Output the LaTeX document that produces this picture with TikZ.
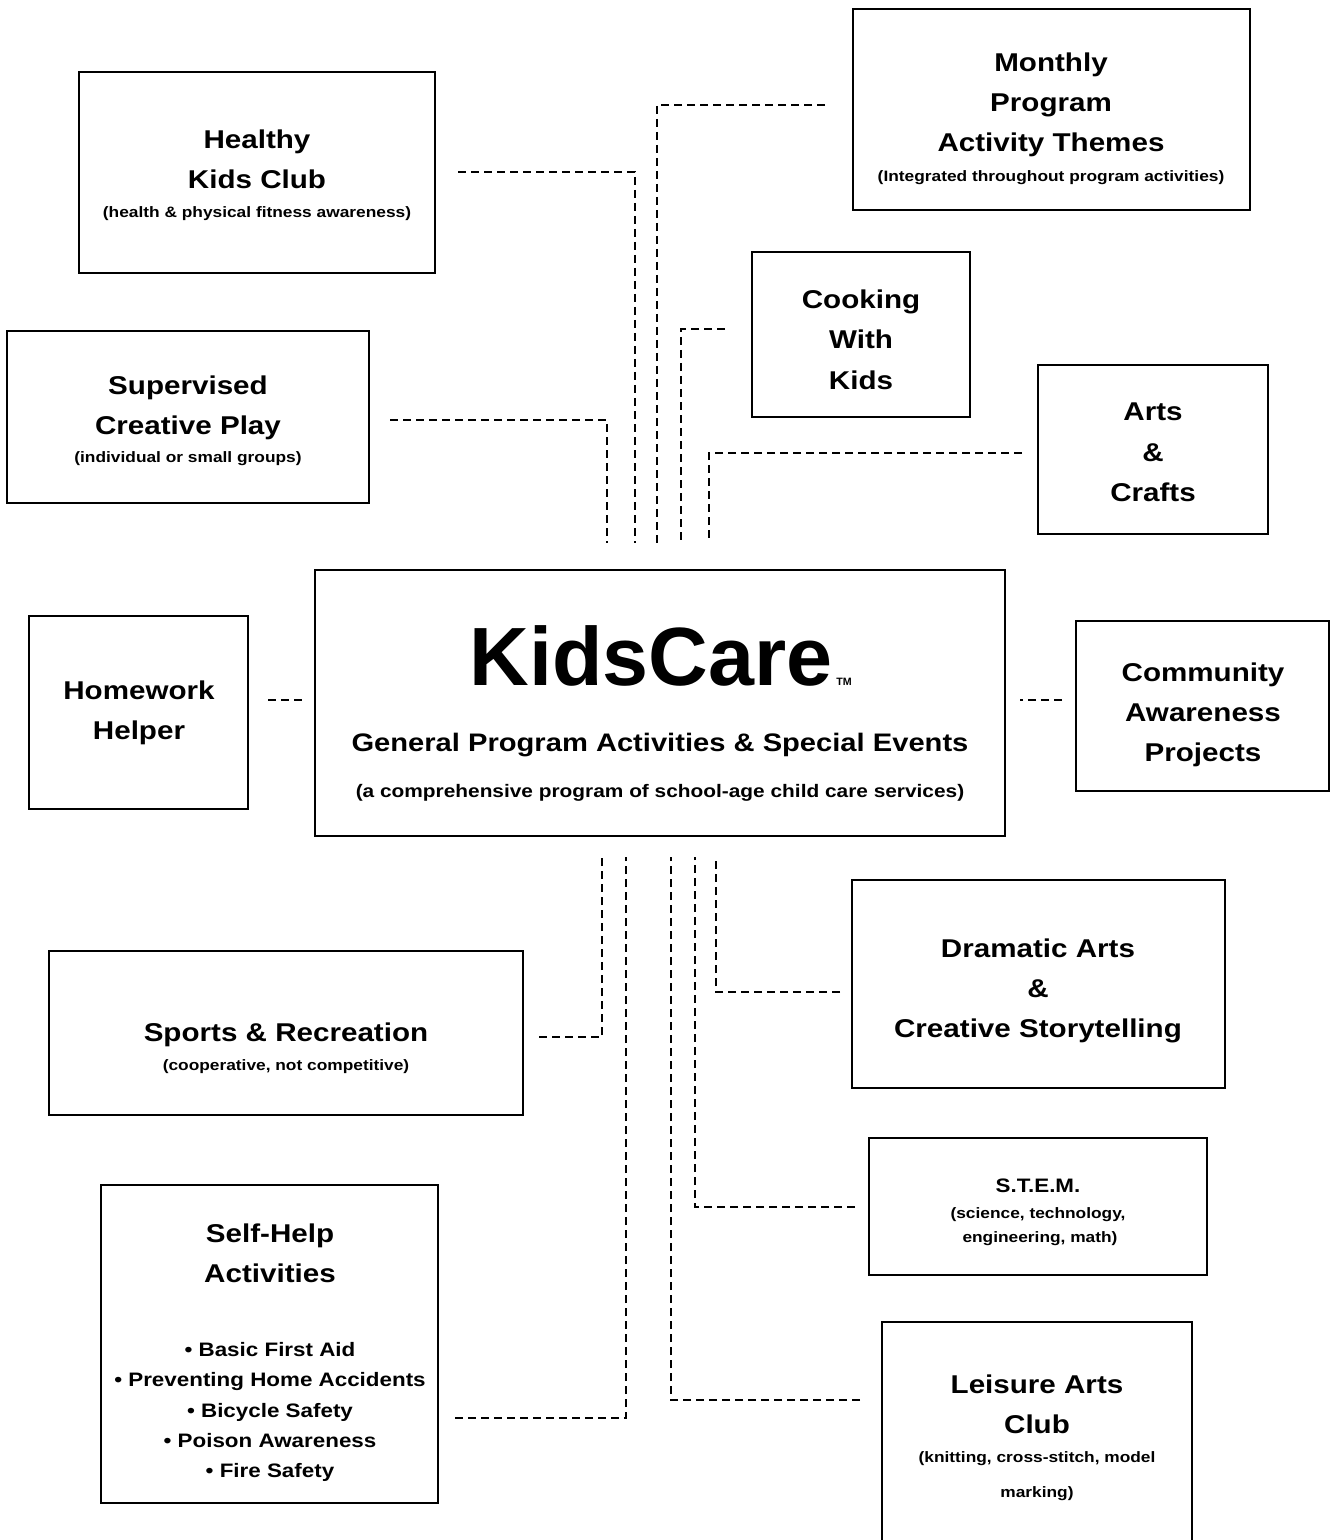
\documentclass[tikz,border=0pt]{standalone}
\usepackage{fontspec}
\setmainfont{Liberation Sans}[FakeStretch=1.15]
\newfontfamily\kcfont{Liberation Sans}
\usetikzlibrary{fit}
\tikzset{
  box/.style={draw, line width=1.4pt, inner sep=0pt, rectangle},
  tx/.style={anchor=base, inner sep=0pt},
  ttl/.style={tx, font=\bfseries\fontsize{19.3}{23}\selectfont},
  sub/.style={tx, font=\bfseries\fontsize{11.3}{13}\selectfont},
  bul/.style={tx, font=\bfseries\fontsize{14.6}{17}\selectfont},
  link/.style={line width=1.1pt, dash pattern=on 6pt off 3.75pt},
}
\begin{document}
\begin{tikzpicture}[x=0.75pt,y=-0.75pt]
\useasboundingbox[fill=white] (0,0) rectangle (1330,1540);

% ---------- boxes ----------
\node[box, fit={(79,72) (435,273)}] (hk) {};
\node[box, fit={(853,9) (1250,210)}] (mo) {};
\node[box, fit={(7,331) (369,503)}] (sp) {};
\node[box, fit={(752,252) (970,417)}] (ck) {};
\node[box, fit={(1038,365) (1268,534)}] (ac) {};
\node[box, fit={(315,570) (1005,836)}] (main) {};
\node[box, fit={(29,616) (248,809)}] (hw) {};
\node[box, fit={(1076,621) (1329,791)}] (cm) {};
\node[box, fit={(852,880) (1225,1088)}] (dr) {};
\node[box, fit={(49,951) (523,1115)}] (sr) {};
\node[box, fit={(869,1138) (1207,1275)}] (st) {};
\node[box, fit={(101,1185) (438,1503)}] (sh) {};
\node[box, fit={(882,1322) (1192,1560)}] (la) {};

% ---------- texts ----------
\node[ttl] (hk1) at (257,149) {Healthy};
\node[ttl] (hk2) at (257,189) {Kids Club};
\node[sub] (hk3) at (257,218) {(health \& physical fitness awareness)};

\node[ttl] (mo1) at (1051,72) {Monthly};
\node[ttl] (mo2) at (1051,112) {Program};
\node[ttl] (mo3) at (1051,152) {Activity Themes};
\node[sub] (mo4) at (1051,182) {(Integrated throughout program activities)};

\node[ttl] (sp1) at (188,394) {Supervised};
\node[ttl] (sp2) at (188,434) {Creative Play};
\node[sub] (sp3) at (188,462) {(individual or small groups)};

\node[ttl] (ck1) at (861,309) {Cooking};
\node[ttl] (ck2) at (861,349) {With};
\node[ttl] (ck3) at (861,389) {Kids};

\node[ttl] (ac1) at (1153,421) {Arts};
\node[ttl] (ac2) at (1153,461) {\&};
\node[ttl] (ac3) at (1153,501) {Crafts};

\node[tx, font=\kcfont\bfseries\fontsize{62}{70}\selectfont] (kc) at (651,685) {KidsCare};
\node[tx, anchor=base west, font=\kcfont\bfseries\fontsize{8}{9}\selectfont] (tm) at (836,685) {TM};
\node[tx, font=\bfseries\fontsize{19}{23}\selectfont] (gp) at (660,751) {General Program Activities \& Special Events};
\node[tx, font=\bfseries\fontsize{13.6}{16}\selectfont] (cp) at (660,797) {(a comprehensive program of school-age child care services)};

\node[ttl] (hw1) at (139,699) {Homework};
\node[ttl] (hw2) at (139,739) {Helper};

\node[ttl] (cm1) at (1203,681) {Community};
\node[ttl] (cm2) at (1203,721) {Awareness};
\node[ttl] (cm3) at (1203,761) {Projects};

\node[ttl] (dr1) at (1038,957) {Dramatic Arts};
\node[ttl] (dr2) at (1038,997) {\&};
\node[ttl] (dr3) at (1038,1037) {Creative Storytelling};

\node[ttl] (sr1) at (286,1041) {Sports \& Recreation};
\node[sub] (sr2) at (286,1070) {(cooperative, not competitive)};

\node[bul] (st1) at (1038,1192) {S.T.E.M.};
\node[sub] (st2) at (1038,1218) {(science, technology,};
\node[sub] (st3) at (1040,1242) {engineering, math)};

\node[ttl] (sh1) at (270,1242) {Self-Help};
\node[ttl] (sh2) at (270,1282) {Activities};
\node[bul] (sh3) at (270,1356) {• Basic First Aid};
\node[bul] (sh4) at (270,1386) {• Preventing Home Accidents};
\node[bul] (sh5) at (270,1417) {• Bicycle Safety};
\node[bul] (sh6) at (270,1447) {• Poison Awareness};
\node[bul] (sh7) at (270,1477) {• Fire Safety};

\node[ttl] (la1) at (1037,1393) {Leisure Arts};
\node[ttl] (la2) at (1037,1433) {Club};
\node[sub] (la3) at (1037,1462) {(knitting, cross-stitch, model};
\node[sub] (la4) at (1037,1497) {marking)};

% ---------- connector ends ----------
\coordinate (hkE) at (458,172);   \coordinate (hkM) at (635,543);
\coordinate (moE) at (825,105);   \coordinate (moM) at (657,545);
\coordinate (spE) at (390,420);   \coordinate (spM) at (607,543);
\coordinate (ckE) at (725,329);   \coordinate (ckM) at (681,543);
\coordinate (acE) at (1022,453);  \coordinate (acM) at (709,543);
\coordinate (hwE) at (268,700);   \coordinate (hwM) at (302,700);
\coordinate (cmE) at (1062,700);  \coordinate (cmM) at (1020,700);
\coordinate (srE) at (539,1037);  \coordinate (srM) at (602,857);
\coordinate (shE) at (455,1418);  \coordinate (shM) at (626,857);
\coordinate (laE) at (860,1400);  \coordinate (laM) at (671,857);
\coordinate (stE) at (855,1207);  \coordinate (stM) at (695,857);
\coordinate (drE) at (840,992);   \coordinate (drM) at (716,857);

% ---------- connectors ----------
\draw[link] (hkE) -| (hkM);
\draw[link] (moE) -| (moM);
\draw[link] (spE) -| (spM);
\draw[link] (ckE) -| (ckM);
\draw[link] (acE) -| (acM);
\draw[link] (hwE) -- (hwM);
\draw[link] (cmE) -- (cmM);
\draw[link] (srE) -| (srM);
\draw[link] (shE) -| (shM);
\draw[link] (laE) -| (laM);
\draw[link] (stE) -| (stM);
\draw[link] (drE) -| (drM);
\end{tikzpicture}
\end{document}
